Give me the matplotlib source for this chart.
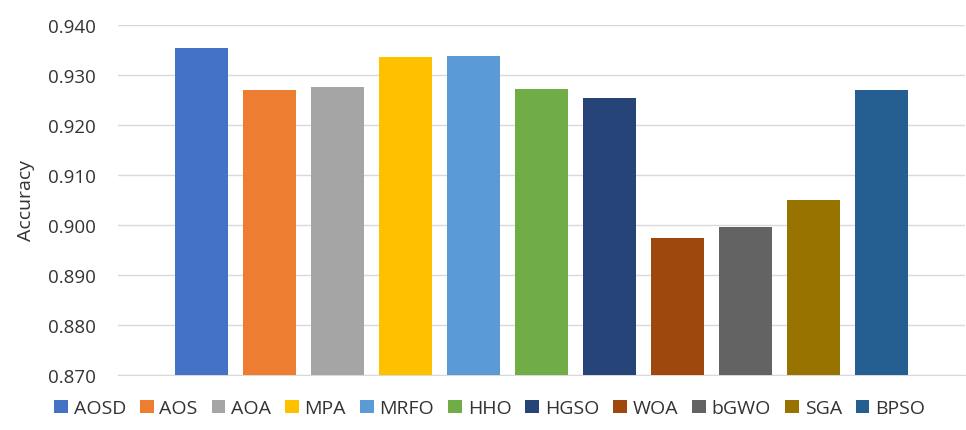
import matplotlib.pyplot as plt
import numpy as np

# values
methods = ['AOSD', 'AOS', 'AOA', 'MPA', 'MRFO', 'HHO', 'HGSO', 'WOA', 'bGWO', 'SGA', 'BPSO']
accuracy = [0.9354, 0.9269, 0.9276, 0.9336, 0.9337, 0.9271, 0.9253, 0.8974, 0.8995, 0.9049, 0.9270]
colors = ['#4472C4', '#ED7D31', '#A5A5A5', '#FFC000', '#5B9BD5', '#70AD47',
          '#264478', '#9E480E', '#636363', '#997300', '#255E91']
yticks = [0.870, 0.880, 0.890, 0.900, 0.910, 0.920, 0.930, 0.940]

plt.rcParams['font.family'] = ['Open Sans', 'DejaVu Sans']
txt = '#333333'

fig = plt.figure(figsize=(9.66, 4.31), dpi=100)
ax = fig.add_axes([0.122, 0.128, 0.877, 0.812])

x = np.arange(len(methods))
bars = ax.bar(x, [a - 0.870 for a in accuracy], bottom=0.870, width=0.78,
              color=colors, zorder=3)

ax.set_ylim(0.870, 0.940)
ax.set_xlim(-1.23, len(methods) - 1 + 1.23)
ax.set_yticks(yticks)
ax.set_yticklabels(['%.3f' % v for v in yticks], fontsize=13.5, color=txt)
ax.set_xticks([])
ax.tick_params(axis='y', length=0, pad=16)
ax.grid(axis='y', color='#d9d9d9', linewidth=1, zorder=0)
for s in ['top', 'right', 'left']:
    ax.spines[s].set_visible(False)
ax.spines['bottom'].set_color('#d9d9d9')
ax.set_ylabel('Accuracy', fontsize=14, color=txt, labelpad=9)

fig.legend(bars, methods, loc='center', bbox_to_anchor=(0.507, 0.05), ncol=len(methods),
           frameon=False, fontsize=14, handlelength=0.7, handleheight=0.7,
           handletextpad=0.3, columnspacing=0.72, labelcolor=txt)

fig.savefig('out.png', dpi=100)
